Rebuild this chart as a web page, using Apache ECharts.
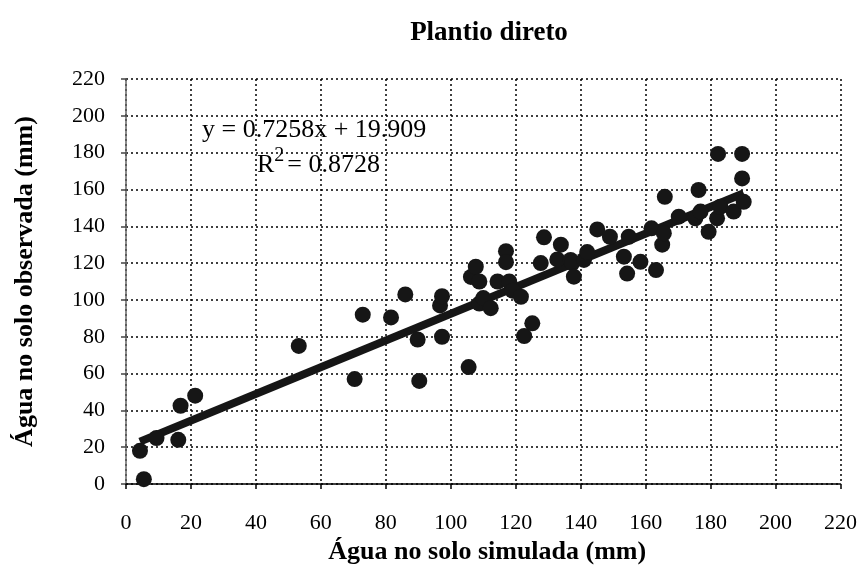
<!DOCTYPE html>
<html><head><meta charset="utf-8">
<script src="https://cdn.jsdelivr.net/npm/echarts@6/dist/echarts.min.js"></script>
<style>html,body{margin:0;padding:0;background:#fff}#c{width:860px;height:576px}</style>
</head><body><div id="c"></div>
<script>
const chartTitle = 'Plantio direto';
const xName = 'Água no solo simulada (mm)';
const yName = 'Água no solo observada (mm)';
const xTicks = [0, 20, 40, 60, 80, 100, 120, 140, 160, 180, 200, 220];
const yTicks = [0, 20, 40, 60, 80, 100, 120, 140, 160, 180, 200, 220];
const simulada = [4.3, 5.5, 9.4, 16.1, 16.8, 21.3, 53.2, 70.4, 72.9, 81.6, 86, 89.8, 90.3, 96.7, 97.3, 97.3,
  105.5, 106.2, 107.7, 108.8, 108.8, 110, 112.3, 114.4, 117, 117, 118, 119, 121.6, 122.6, 125.1, 127.7,
  128.7, 132.8, 133.9, 136.9, 137.4, 137.9, 141, 142, 145.1, 149, 153.3, 154.3, 154.8, 158.4, 161.8,
  163.2, 165.1, 165.6, 165.9, 170.2, 175.3, 176.3, 176.9, 179.4, 182, 183, 182.3, 187.1, 189.7, 189.7, 190.2];
const observada = [18, 2.6, 25, 24, 42.5, 48, 75, 57, 92, 90.5, 103, 78.5, 56, 97, 102, 80,
  63.5, 112.5, 118, 110, 98, 101, 95.5, 110, 126.5, 120.5, 110, 105, 101.7, 80.4, 87.3, 120,
  134, 122, 130, 121.7, 120, 112.6, 121.7, 126, 138.3, 134.3, 123.5, 114.3, 134.3, 120.7, 138.9,
  116.2, 130, 136.2, 156, 145.2, 144.3, 159.7, 148, 137, 144.3, 150.6, 179.3, 148, 179.3, 166, 153.3];
const slope = 0.7258, intercept = 19.909, r2 = 0.8728;

const pts = simulada.map((x, i) => [x, observada[i]]);
const xMin = Math.min(...simulada), xMax = Math.max(...simulada);
const trend = [[xMin, slope * xMin + intercept], [xMax, slope * xMax + intercept]];

const serif = 'Liberation Serif';
const chart = echarts.init(document.getElementById('c'), null, {renderer: 'canvas'});
chart.setOption({
  backgroundColor: '#fff',
  animation: false,
  title: {text: chartTitle, left: 484, top: 15, textAlign: 'center',
    textStyle: {fontFamily: serif, fontWeight: 'bold', fontSize: 27, color: '#000'}},
  grid: {left: 126, right: 18, top: 79, bottom: 92},
  xAxis: {type: 'value', min: xTicks[0], max: xTicks[xTicks.length - 1], interval: 20,
    name: xName, nameLocation: 'middle', nameGap: 55,
    nameTextStyle: {fontFamily: serif, fontWeight: 'bold', fontSize: 26, color: '#000', padding: [0, 0, 0, 8]},
    axisLine: {show: true, lineStyle: {color: '#000', width: 1.5}},
    axisTick: {show: true, inside: false, length: 5, lineStyle: {color: '#000', width: 1.5}},
    axisLabel: {fontFamily: serif, fontSize: 22, color: '#000', margin: 28},
    splitLine: {show: true, lineStyle: {color: '#000', type: [2, 3], width: 1.5}}},
  yAxis: {type: 'value', min: yTicks[0], max: yTicks[yTicks.length - 1], interval: 20,
    name: yName, nameLocation: 'middle', nameGap: 88,
    nameTextStyle: {fontFamily: serif, fontWeight: 'bold', fontSize: 26, color: '#000'},
    axisLine: {show: true, lineStyle: {color: '#666', width: 1.5}},
    axisTick: {show: true, inside: false, length: 5, lineStyle: {color: '#444', width: 1.5}},
    axisLabel: {fontFamily: serif, fontSize: 22, color: '#000', margin: 21},
    splitLine: {show: true, lineStyle: {color: '#000', type: [2, 3], width: 1.5}}},
  graphic: [
    {type: 'text', left: 202, top: 117, z: 10,
      style: {text: 'y = ' + slope + 'x + ' + intercept, fontFamily: serif, fontSize: 26, fill: '#000'}},
    {type: 'text', left: 257, top: 146, z: 10,
      style: {text: '{a|R}{b|2}{a|= ' + r2 + '}', fontFamily: serif, fill: '#000',
        rich: {a: {fontFamily: serif, fontSize: 26, color: '#000', verticalAlign: 'bottom', lineHeight: 32},
               b: {fontFamily: serif, fontSize: 20, color: '#000', verticalAlign: 'top', lineHeight: 32, padding: [0, 3, 0, 0]}}}}
  ],
  series: [
    {type: 'line', data: trend, symbol: 'none', z: 3,
      lineStyle: {color: '#161616', width: 8}},
    {type: 'scatter', data: pts, symbol: 'circle', symbolSize: 16, z: 4,
      itemStyle: {color: '#161616', opacity: 1}}
  ]
});
</script></body></html>
